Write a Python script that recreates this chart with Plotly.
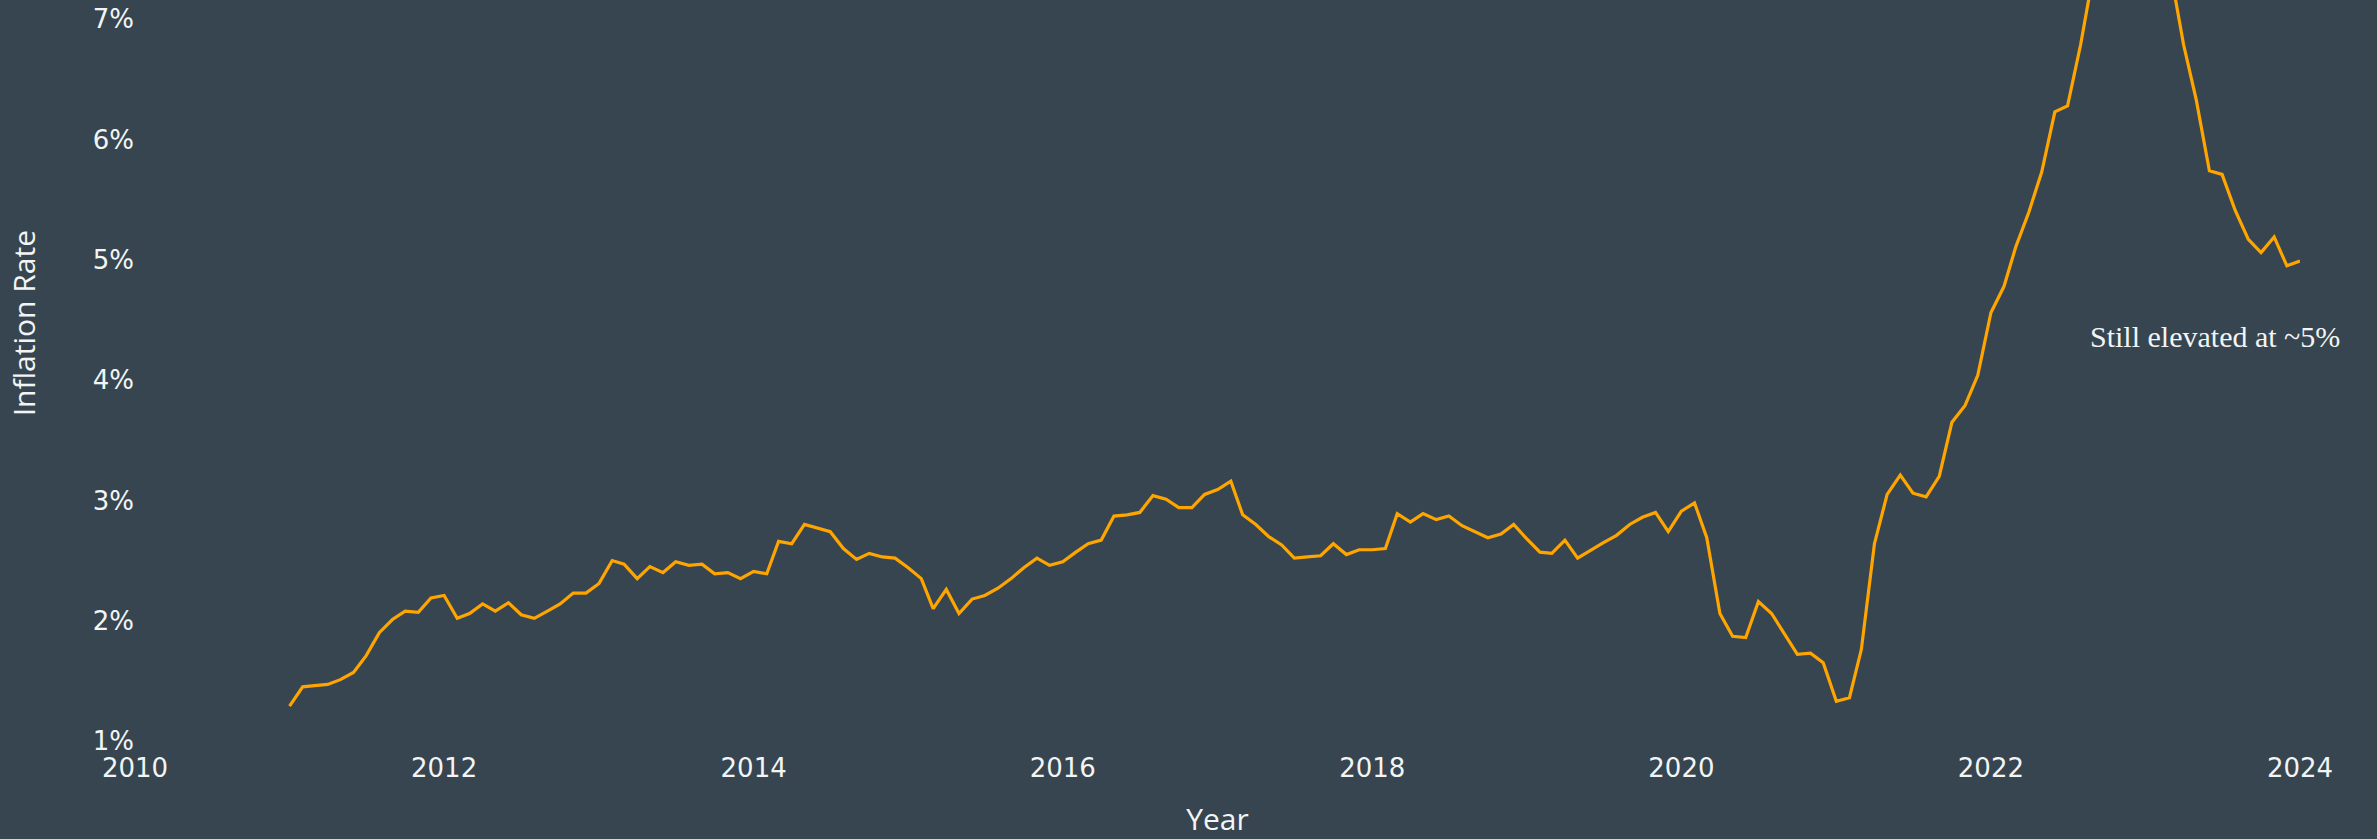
import plotly.graph_objects as go
import pandas as pd

# Monthly inflation rate (%), Jan 2011 .. Jan 2024
dates = pd.date_range("2011-01-01", "2024-01-01", freq="MS")
inflation = [
    1.29, 1.45, 1.46, 1.47, 1.51, 1.57, 1.71, 1.90, 2.01, 2.08, 2.07, 2.19,
    2.21, 2.02, 2.06, 2.14, 2.08, 2.15, 2.05, 2.02, 2.08, 2.14, 2.23, 2.23,
    2.31, 2.50, 2.47, 2.35, 2.45, 2.40, 2.49, 2.46, 2.47, 2.39, 2.40, 2.35,
    2.41, 2.39, 2.66, 2.64, 2.80, 2.77, 2.74, 2.60, 2.51, 2.56, 2.53, 2.52,
    2.44, 2.35, 2.10, 2.26, 2.06, 2.18, 2.21, 2.27, 2.35, 2.44, 2.52, 2.46,
    2.49, 2.57, 2.64, 2.67, 2.87, 2.88, 2.90, 3.04, 3.01, 2.94, 2.94, 3.05,
    3.09, 3.16, 2.88, 2.80, 2.70, 2.63, 2.52, 2.53, 2.54, 2.64, 2.55, 2.59,
    2.59, 2.60, 2.89, 2.82, 2.89, 2.84, 2.87, 2.79, 2.74, 2.69, 2.72, 2.80,
    2.68, 2.57, 2.56, 2.67, 2.52, 2.59, 2.65, 2.71, 2.80, 2.86, 2.90, 2.74,
    2.91, 2.98, 2.69, 2.06, 1.87, 1.86, 2.16, 2.06, 1.89, 1.72, 1.73, 1.65,
    1.33, 1.36, 1.76, 2.64, 3.05, 3.21, 3.06, 3.03, 3.20, 3.65, 3.79, 4.04,
    4.56, 4.78, 5.11, 5.40, 5.73, 6.23, 6.28, 6.79, 7.40, 7.90, 8.30, 8.50,
    8.40, 8.00, 7.40, 6.79, 6.33, 5.74, 5.71, 5.41, 5.17, 5.06, 5.19, 4.95,
    4.99,
]
y_ticks = [1, 2, 3, 4, 5, 6, 7]
x_ticks = ["2010", "2012", "2014", "2016", "2018", "2020", "2022", "2024"]

BG = "#36454F"
TXT = "#F2F4F5"

fig = go.Figure()
fig.add_trace(go.Scatter(
    x=dates, y=inflation, mode="lines",
    line=dict(color="#FFA500", width=3.2),
    showlegend=False,
))

fig.update_layout(
    width=2377, height=839,
    paper_bgcolor=BG, plot_bgcolor=BG,
    margin=dict(l=135, r=77, t=0, b=98),
    font=dict(family="DejaVu Sans", color=TXT, size=26),
    xaxis=dict(
        range=["2010-01-01", "2024-01-01"],
        tickvals=[pd.Timestamp(f"{t}-01-01") for t in x_ticks],
        ticktext=x_ticks,
        ticks="outside", ticklen=4, tickcolor=BG,
        showgrid=False, zeroline=False, showline=False,
        tickfont=dict(family="DejaVu Sans", size=26, color=TXT),
        title=dict(text="Year", font=dict(family="Open Sans", size=30, color=TXT), standoff=26),
    ),
    yaxis=dict(
        range=[1, 7.16],
        tickvals=y_ticks,
        ticktext=[f"{v}%" for v in y_ticks],
        showgrid=False, zeroline=False, showline=False,
        tickfont=dict(family="DejaVu Sans", size=26, color=TXT),
    ),
    annotations=[
        dict(text="Inflation Rate", xref="paper", yref="paper",
             x=-0.0515, y=0.563, xanchor="center", yanchor="middle",
             textangle=-90, showarrow=False,
             font=dict(family="Open Sans", size=30, color=TXT)),
        dict(text="Still elevated at ~5%", xref="x", yref="y",
             x="2023-06-15", y=4.36, xanchor="center", yanchor="middle",
             showarrow=False,
             font=dict(family="Liberation Serif", size=30, color=TXT)),
    ],
)

fig.write_html(
    "out.html",
    config={"displayModeBar": False},
    post_script="document.body.style.margin='0';document.body.style.overflow='hidden';document.body.style.background='#36454F';",
)
